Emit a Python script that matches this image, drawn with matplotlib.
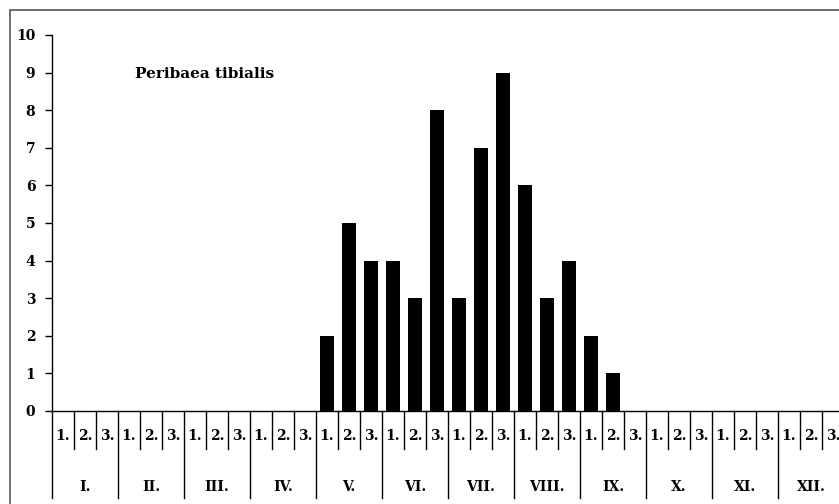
import matplotlib.pyplot as plt
from matplotlib.patches import Rectangle
import matplotlib.transforms as mtransforms

months = ['I.', 'II.', 'III.', 'IV.', 'V.', 'VI.', 'VII.', 'VIII.', 'IX.', 'X.', 'XI.', 'XII.']
decades = ['1.', '2.', '3.']
counts = [0, 0, 0, 0, 0, 0, 0, 0, 0, 0, 0, 0,
          2, 5, 4, 4, 3, 8, 3, 7, 9, 6, 3, 4,
          2, 1, 0, 0, 0, 0, 0, 0, 0, 0, 0, 0]
species = 'Peribaea tibialis'

plt.rcParams['font.family'] = ['DejaVu Serif']
plt.rcParams['font.weight'] = 'bold'
FS = 10

W, H = 839, 504
fig = plt.figure(figsize=(W / 100, H / 100), dpi=100)
# axes runs a bit past the right edge, as in the original
ax = fig.add_axes([52 / W, 1 - 411 / H, 792 / W, 376 / H])

n = len(counts)
pos = [i + 0.5 for i in range(n)]
ax.bar(pos, counts, width=0.68, color='black')
ax.set_xlim(0, n)
ax.set_ylim(0, 10)
ax.set_yticks(range(11))
ax.tick_params(axis='y', direction='out', length=5, width=1, labelsize=FS, pad=7)
for lab in ax.get_yticklabels():
    lab.set_fontweight('bold')
ax.set_xticks([])
for s in ['top', 'right']:
    ax.spines[s].set_visible(False)
ax.spines['left'].set_linewidth(1)
ax.spines['bottom'].set_linewidth(1)

ax.text(3.77, 8.95, species, fontsize=11, fontweight='bold', va='center', ha='left')

# category table below the axis: x in data, y in pixels from top of figure
trans = mtransforms.blended_transform_factory(ax.transData, fig.transFigure)
def fy(py):
    return 1 - py / H

for i in range(n + 1):
    bottom = 498 if i % 3 == 0 else 449
    ax.plot([i, i], [fy(411), fy(bottom)], transform=trans, color='black',
            lw=1, clip_on=False)
for i in range(n):
    ax.text(i + 0.5, fy(436), decades[i % 3], transform=trans, ha='center',
            va='center', fontsize=FS, fontweight='bold', clip_on=False)
for m, name in enumerate(months):
    ax.text(m * 3 + 1.5, fy(487), name, transform=trans, ha='center',
            va='center', fontsize=FS, fontweight='bold', clip_on=False)

# outer frame
fig.patches.append(Rectangle((10 / W, -0.1), 1.2, 1 - 10 / H + 0.1,
                             transform=fig.transFigure, fill=False,
                             edgecolor='#555555', lw=1.2))

fig.savefig('out.png', dpi=100)
